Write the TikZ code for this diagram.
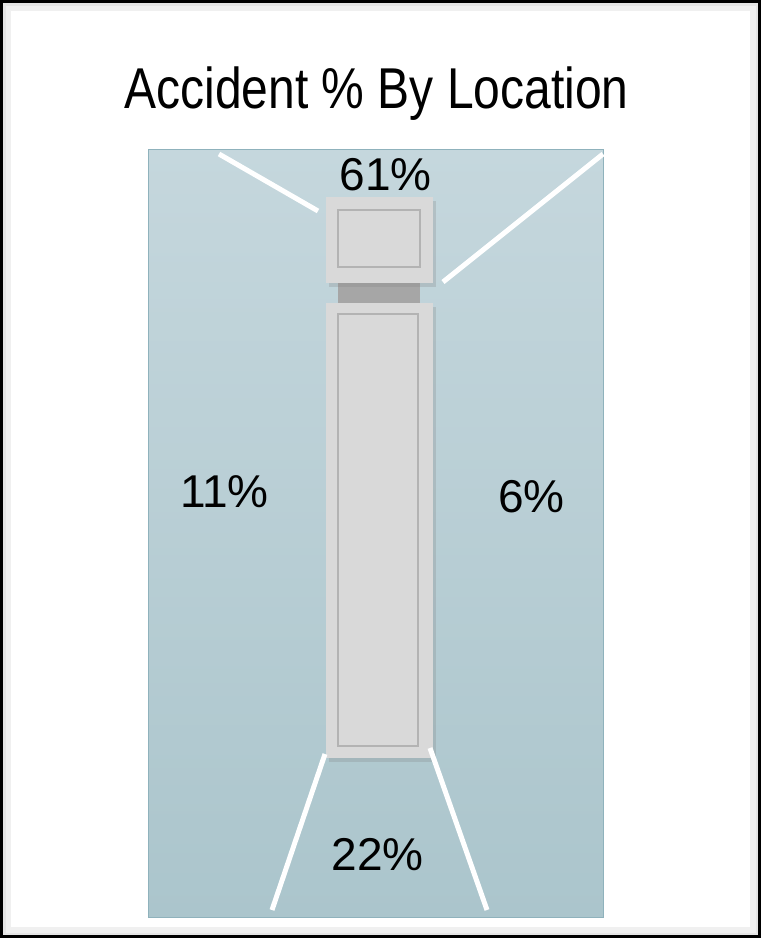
\documentclass[tikz,border=0pt]{standalone}
\usepackage{fontspec}
\setmainfont{Liberation Sans}
\usepackage{graphicx}
\usetikzlibrary{shadows,positioning}
\definecolor{panelTop}{HTML}{C5D7DD}
\definecolor{panelBottom}{HTML}{ABC5CC}
\definecolor{panelEdge}{HTML}{8FB2BC}
\definecolor{boxFill}{HTML}{D9D9D9}
\definecolor{boxEdge}{HTML}{B3B3B3}
\definecolor{neckFill}{HTML}{A6A6A6}
\tikzset{
  pct/.style={font=\fontsize{46}{54}\selectfont, anchor=base, inner sep=0pt},
  wallline/.style={white, line width=5pt},
  railbox/.style={fill=boxFill, draw=none,
    drop shadow={shadow xshift=3pt, shadow yshift=-4pt, opacity=0.25}},
  innerpanel/.style={draw=boxEdge, line width=1.5pt},
}

\begin{document}
\begin{tikzpicture}[x=1pt, y=-1pt]
  \useasboundingbox (0,0) rectangle (761,938);
  % frame
  \draw[black!6, line width=8pt] (7,7) rectangle (754,931); %
  \draw[black!10, line width=3pt] (4,4) rectangle (757,934); %
  \draw[black, line width=2.5pt] (1.5,1.5) rectangle (759.5,936.5); %
  \node[anchor=base, inner sep=0pt] (title) at (376.5,108)
    {\scalebox{1}[1.2]{\fontsize{48}{56}\selectfont Accident \% By Location}};
  % floor
  \shade[top color=panelTop, bottom color=panelBottom, draw=panelEdge,
    line width=1pt] (148,149) rectangle (603,917); %
  \coordinate (headNW) at (326,197); %
  \coordinate (headSE) at (433,283); %
  \coordinate (bodyNW) at (326,303); %
  \coordinate (bodySE) at (433,758); %
  \begin{scope}
    \fill[neckFill] (338,283) rectangle (420,303); %
    \fill[railbox] (headNW) rectangle (headSE); %
    \draw[innerpanel] (338,210) rectangle (420,267); %
    \fill[railbox] (bodyNW) rectangle (bodySE); %
    \draw[innerpanel] (338,314) rectangle (418,746); %
  \end{scope}
  % lines
  \draw[wallline] (219,154) -- (318,211); %
  \draw[wallline] (603,154) -- (443,282); %
  \draw[wallline] (325,754) -- (272,910); %
  \draw[wallline] (430,748) -- (487,910); %
  \node[pct] (top) at (385.5,190) {61\%}; %
  \node[pct] (left) at (224.5,507) {11\%}; %
  \node[pct] (right) at (531.5,512) {6\%}; %
  \node[pct] (bottom) at (377.5,870) {22\%}; %
\end{tikzpicture}
\end{document}
